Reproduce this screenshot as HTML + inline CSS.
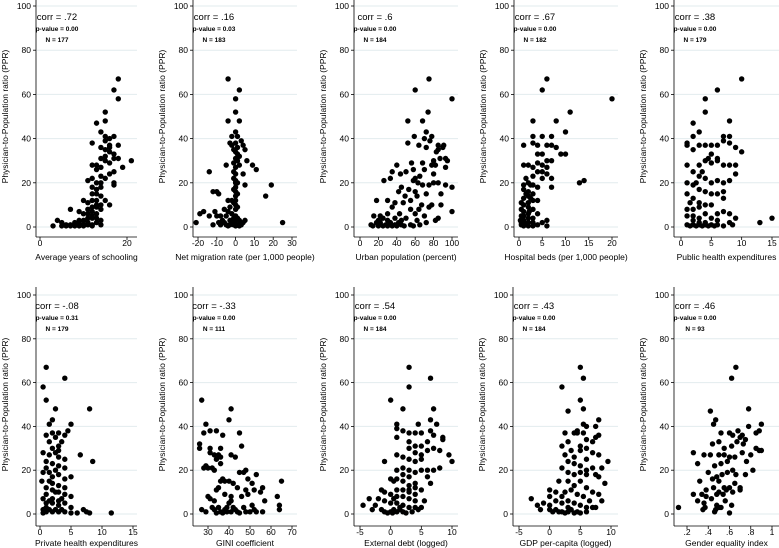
<!DOCTYPE html>
<html><head><meta charset="utf-8"><style>
html,body{margin:0;padding:0;background:#fff;}
svg{display:block;font-family:"Liberation Sans",Arial,sans-serif;}
</style></head><body>
<svg id="chart" width="779" height="548" viewBox="0 0 779 548" xmlns="http://www.w3.org/2000/svg"></svg>
<script>
const titles=["Average years of schooling","Net migration rate (per 1,000 people)","Urban population (percent)","Hospital beds (per 1,000 people)","Public health expenditures","Private health expenditures","GINI coefficient","External debt (logged)","GDP per-capita (logged)","Gender equality index"];
const corrLabels=["corr = .72","corr = .16","corr = .6","corr = .67","corr = .38","corr = -.08","corr = -.33","corr = .54","corr = .43","corr = .46"];
const pLabels=["p-value = 0.00","p-value = 0.03","p-value = 0.00","p-value = 0.00","p-value = 0.00","p-value = 0.31","p-value = 0.00","p-value = 0.00","p-value = 0.00","p-value = 0.00"];
const nLabels=["N = 177","N = 183","N = 184","N = 182","N = 179","N = 179","N = 111","N = 184","N = 184","N = 93"];
const yTicks=[0,20,40,60,80,100];
const xTicks=[[0,20],[-20,-10,0,10,20,30],[0,20,40,60,80,100],[0,5,10,15,20],[0,5,10,15],[0,5,10,15],[30,40,50,60,70],[-5,0,5,10],[-5,0,5,10],[.2,.4,.6,.8,1]];
const xTickText=[["0","20"],["-20","-10","0","10","20","30"],["0","20","40","60","80","100"],["0","5","10","15","20"],["0","5","10","15"],["0","5","10","15"],["30","40","50","60","70"],["-5","0","5","10"],["-5","0","5","10"],[".2",".4",".6",".8","1"]];

const schooling=[[18,67],[17,62],[18,58],[15,52],[15,48],[13,47],[14,43],[17,41],[15,41],[16,40],[12,38],[18,37],[16,37],[14,36],[15,35],[16,34],[17,33],[17,31],[18,31],[14,31],[15,30],[21,30],[16,29],[19,27],[13,28],[12,28],[14,27],[13,26],[17,25],[16,24],[14,23],[12,22],[15,22],[13,20],[17,20],[17,19],[12,18],[14,18],[13,17],[11,21],[13,15],[12,15],[14,14],[15,12],[13,12],[12,12],[10,12],[11,11],[16,10],[14,10],[13,9],[12,9],[11,8],[14,8],[7,8],[9,7],[10,6],[11,6],[13,6],[12,5],[11,4],[12,4],[13,4],[14,3],[9,3],[10,3],[8,2],[9,2],[11,2],[12,1],[14,1],[4,3],[5,2],[6,1],[7,1],[8,1],[9,1],[10,1],[11,1],[3,0.5],[5,0.5],[6,0.5],[7,0.5],[8,0.5],[9,0.5],[10,0.5],[12,0.5],[13,2],[15,32],[15,39],[16,36],[14,20],[13,10],[12,7]];
const migration=[[-4,67],[2,62],[0,58],[0,52],[-4,48],[2,48],[0,43],[1,41],[-2,41],[-3,38],[0,38],[3,39],[4,37],[5,35],[-2,37],[1,36],[0,34],[1,33],[2,32],[0,31],[1,30],[-1,29],[2,28],[0,27],[-5,28],[6,30],[9,28],[11,26],[4,24],[-14,25],[0,24],[-1,22],[0,21],[1,20],[5,19],[19,19],[0,18],[-1,17],[0,16],[-12,16],[-10,16],[-9,15],[16,14],[0,14],[-2,12],[-1,11],[0,10],[-4,12],[-3,9],[1,9],[0,8],[-6,8],[-4,7],[-17,7],[-19,6],[-11,7],[-2,6],[0,5],[-14,5],[-10,5],[-8,5],[-5,5],[-1,4],[1,4],[-7,3],[-3,3],[0,3],[2,3],[5,3],[-21,2],[-9,2],[-6,2],[-2,2],[4,2],[25,2],[-12,1],[-8,1],[-5,1],[-3,1],[-1,1],[0,1],[1,1],[2,1],[3,1],[-4,0.5],[0,0.5],[2,0.5],[0,20],[-1,25],[1,15],[0,12],[-1,35]];
const urban=[[75,67],[60,62],[100,58],[74,52],[52,48],[68,48],[72,43],[59,41],[78,41],[70,40],[76,39],[85,37],[91,37],[52,38],[64,37],[72,36],[90,36],[83,34],[85,35],[87,31],[93,31],[95,30],[80,30],[68,29],[78,28],[82,28],[56,29],[40,28],[35,25],[50,25],[58,26],[70,26],[93,27],[33,22],[44,24],[60,22],[65,23],[80,24],[26,21],[58,21],[63,20],[75,19],[80,20],[85,20],[93,19],[100,18],[68,19],[45,18],[53,17],[42,16],[60,16],[72,15],[88,15],[49,14],[62,14],[55,12],[30,12],[18,12],[38,11],[47,11],[67,10],[78,10],[88,10],[35,9],[55,8],[64,8],[75,9],[100,7],[22,5],[30,6],[43,6],[60,6],[70,5],[85,4],[15,5],[25,4],[38,4],[50,4],[62,3],[82,3],[12,1],[18,2],[22,2],[28,1],[33,2],[38,1],[42,2],[45,1],[55,1],[65,1],[72,2],[14,0.5],[20,0.5],[25,0.5],[30,0.5],[35,0.5],[40,0.5],[48,0.5],[58,0.5],[30,3],[20,3],[45,3]];
const beds=[[6,67],[5,62],[20,58],[11,52],[3,48],[8,48],[10,43],[3,41],[5,41],[7,41],[1,37],[3,38],[4,37],[6,37],[7,37],[8,36],[9,33],[10,33],[5,33],[6,30],[7,30],[4,29],[5,28],[1,28],[2,28],[3,27],[4,25],[5,25],[6,24],[7,22],[3,23],[2,20],[1,19],[3,19],[4,18],[7,18],[13,20],[14,21],[1,17],[2,16],[3,15],[2,14],[1,13],[3,12],[4,12],[0.5,11],[2,11],[1,10],[2,9],[3,8],[0.5,8],[1,7],[2,6],[4,6],[0.5,5],[1,5],[2,4],[3,4],[1,3],[6,3],[5,2],[0.5,2],[1,2],[2,2],[3,2],[4,1],[6,0.5],[0.5,1],[1,0.5],[2,0.5],[3,0.5],[1.5,15],[2.5,19],[1.5,22],[2.5,13],[4,33],[5,22],[6,27],[0.3,3],[1.2,1],[2.2,7]];
const publicExp=[[10,67],[6,62],[4,58],[4,52],[8,48],[2,47],[2,41],[3,43],[7,41],[8,41],[1,38],[1,37],[3,37],[4,37],[5,37],[6,37],[7,39],[8,38],[9,36],[10,34],[2,35],[5,33],[6,31],[6,30],[7,28],[8,28],[9,28],[5,29],[4,30],[3,28],[1,28],[2,25],[3,23],[4,22],[5,20],[6,21],[7,20],[8,21],[9,24],[1,20],[2,19],[3,17],[4,16],[5,15],[6,15],[7,16],[7,13],[1,15],[2,13],[3,11],[4,10],[5,10],[3,9],[2,8],[1,8],[4,6],[6,6],[7,7],[8,6],[9,4],[1,5],[2,5],[3,4],[5,4],[2,3],[3,2],[4,2],[6,3],[8,2],[1,1],[2,1],[3,1],[4,1],[5,1],[6,1],[7,0.5],[8.5,1],[13,2],[15,4],[1.5,0.5],[2.5,0.5],[3.5,0.5],[4.5,0.5],[5.5,0.5],[2.5,20],[3.5,25],[4.5,31],[1.5,11]];
const privateExp=[[1,67],[4,62],[0.5,58],[1,52],[2.5,48],[8,48],[1.5,41],[2,43],[5,41],[4.5,38],[4,36],[2,37],[3,37],[2.5,35],[1.5,33],[3.5,33],[3,31],[2,30],[2.5,28],[0.5,28],[6.5,27],[1.5,27],[3,26],[4,25],[8.5,24],[1,24],[2,23],[3,22],[1,21],[4,21],[2.5,20],[0.5,19],[1.5,19],[3,18],[5,17],[4,16],[0.3,15],[1.5,15],[2,14],[3,13],[1,12],[4,12],[2,11],[3,10],[1,9],[4,9],[5,8],[0.5,7],[2,7],[3,6],[1,5],[2,5],[4,5],[3,4],[1,3],[5,3],[7,2],[0.5,2],[1.5,2],[2.5,2],[3.5,2],[7.5,1],[8,0.5],[11.5,0.5],[0.5,0.5],[1,1],[2,1],[3,1],[4,1],[5,0.5],[6,0.5],[1.5,6],[2.5,10],[3.5,7],[2,17],[3,29],[1,36]];
const gini=[[27,52],[41,48],[40,43],[29,41],[28,37],[31,38],[34,38],[37,36],[45,37],[46,31],[26,30],[26,32],[31,30],[33,27],[35,27],[36,30],[36,26],[31,28],[34,25],[36,23],[41,27],[43,26],[29,22],[32,21],[30,21],[28,21],[33,20],[45,19],[48,20],[47,19],[53,18],[49,16],[37,16],[38,15],[40,15],[36,15],[51,14],[52,11],[56,12],[42,14],[44,12],[35,12],[34,11],[65,15],[55,10],[49,9],[46,8],[41,8],[38,9],[30,8],[31,7],[33,6],[57,6],[63,8],[64,4],[64,2],[27,2],[29,1],[33,2],[35,3],[36,1],[38,2],[39,3],[40,5],[41,1],[42,3],[43,2],[44,1],[47,3],[48,1],[50,1],[52,2],[53,1],[56,1],[45,0.5],[37,0.5],[39,1],[34,0.5],[32,3],[41,6],[48,11],[51,4]];
const debt=[[3,67],[6.5,62],[3,58],[0,52],[2,48],[7,48],[4.5,41],[1,41],[6.5,43],[7.5,41],[1,39],[2,38],[3,37],[4,37],[5,37],[6.5,38],[7,36],[8.5,35],[8.5,34],[1,35],[3,33],[4,31],[5,31],[6,33],[7,30],[8,29],[9.5,27],[10,24],[8,21],[3,30],[4,28],[5,27],[6,29],[7,20],[-1,24],[1,27],[2,26],[3,25],[4,24],[5,25],[2,21],[3,20],[4,19],[5,20],[6,20],[6,17],[6.5,14],[1,20],[2,18],[3,17],[1,16],[0,16],[0.5,15],[2,15],[3,13],[4,12],[5,11],[3,10],[4,9],[2,11],[1,11],[-1.5,11],[-1,10],[0,9],[1,8],[2,8],[3,7],[4,6],[5.5,6],[-3.5,7],[-2,7],[-1,6],[0,5],[1,5],[2,4],[3,3],[4,3],[5,3],[-4.5,4],[-2.5,4],[-3,2],[-1.5,2],[-1,1],[0,1],[0.5,2],[1,1],[1.5,2],[2,1],[2.5,0.5],[-0.5,0.5],[0.3,0.5],[3.5,1],[4.5,2],[1.5,3],[0.5,7],[3,11],[4,14]];
const gdp=[[5,67],[5.5,62],[2,58],[5,52],[5.5,48],[3,47],[5.5,41],[6,40],[7.5,40],[8,43],[2.5,37],[4,37],[4.5,38],[5.5,37],[6,34],[7,33],[7.5,35],[8,36],[3,33],[2,31],[2.5,27],[3.5,29],[4,26],[5,31],[5,29],[6,30],[7,28],[8,27],[3,24],[4,23],[5,22],[6,20],[7,21],[8.5,21],[9.5,24],[9,14],[2,21],[3,19],[4,18],[5,19],[6,18],[7.5,18],[8,17],[1.5,15],[3,15],[4,13],[5,15],[6,12],[7,10],[8,9],[2.5,10],[3.5,11],[4.5,9],[5.5,8],[6.5,6],[8.5,6],[0,11],[1,10],[0,8],[1,6],[2,5],[3,6],[4,5],[5,4],[6,3],[7,3],[-3,7],[-2,4],[-1,5],[0,4],[-1.5,2],[0,2],[0.5,1],[1,2],[1.5,1],[2,1],[2.5,0.5],[3,1],[3.5,2],[4,0.5],[4.5,1],[5,0.5],[6,1],[7.5,3],[3,3],[2,8],[4.5,37],[6,25]];
const gender=[[.66,67],[.62,62],[.78,48],[.42,47],[.9,41],[.45,41],[.47,43],[.52,37],[.6,37],[.63,36],[.68,38],[.72,36],[.78,40],[.88,38],[.85,37],[.7,35],[.75,34],[.44,32],[.5,33],[.55,30],[.62,31],[.67,33],[.73,32],[.85,30],[.88,29],[.9,29],[.26,28],[.36,27],[.42,27],[.5,27],[.55,27],[.6,26],[.65,26],[.8,27],[.3,23],[.46,22],[.52,23],[.58,24],[.63,20],[.76,24],[.82,20],[.4,19],[.48,17],[.53,18],[.58,19],[.66,18],[.75,18],[.44,16],[.5,15],[.55,12],[.6,12],[.7,12],[.32,15],[.38,11],[.45,12],[.5,10],[.57,11],[.63,10],[.7,11],[.26,9],[.34,9],[.38,8],[.43,7],[.48,9],[.54,9],[.3,6],[.36,5],[.48,4],[.5,3],[.56,6],[.62,4],[.12,3],[.37,3],[.35,2],[.47,2],[.46,1],[.6,0.5],[.52,3],[.65,14],[.72,28]];
const series=[schooling,migration,urban,beds,publicExp,privateExp,gini,debt,gdp,gender];
const names=["schooling","migration","urban","beds","public-health","private-health","gini","external-debt","gdp","gender-equality"];

const layout=[
 {ax:36,x0:0,px0:40,x1:20,px1:127,right:137},
 {ax:193,x0:-20,px0:198,x1:30,px1:292,right:297},
 {ax:354,x0:0,px0:360,x1:100,px1:452,right:458},
 {ax:514,x0:0,px0:519,x1:20,px1:612,right:618},
 {ax:674,x0:0,px0:681,x1:15,px1:772,right:779},
 {ax:36,x0:0,px0:40,x1:15,px1:133,right:137},
 {ax:193,x0:30,px0:208,x1:70,px1:292,right:297},
 {ax:354,x0:-5,px0:360,x1:10,px1:452,right:458},
 {ax:513,x0:-5,px0:519,x1:10,px1:611,right:618},
 {ax:674,x0:.2,px0:687,x1:1,px1:772,right:779}];
const rows=[{top:0,y100:6,y0:227,xl:237,tl:246,tt:260},{top:287,y100:295,y0:514,xl:526,tl:535,tt:546}];

const svg=document.getElementById('chart');
const NS='http://www.w3.org/2000/svg';
function mk(tag,attrs,parent){const e=document.createElementNS(NS,tag);for(const k in attrs)e.setAttribute(k,attrs[k]);(parent||svg).appendChild(e);return e;}

for(let i=0;i<10;i++){
  const L=layout[i],R=rows[i<5?0:1];
  const xs=v=>L.px0+(v-L.x0)*(L.px1-L.px0)/(L.x1-L.x0);
  const ys=v=>R.y0-(v/100)*(R.y0-R.y100);
  const g=mk('g',{});
  
  
  yTicks.forEach(t=>{
    const gl=mk('line',{x1:L.ax+1,x2:L.right,y1:ys(t),y2:ys(t),stroke:'#e2ebee','stroke-width':1},g);
    
    
    mk('line',{x1:L.ax-3,x2:L.ax,y1:ys(t),y2:ys(t),stroke:'#000','stroke-width':0.8},g);
    const tl=mk('text',{x:L.ax-5,y:ys(t)+3,'text-anchor':'end','font-size':8.5},g);
    tl.textContent=String(t);
    
    
  });
  const ya=mk('line',{x1:L.ax,x2:L.ax,y1:R.top,y2:R.xl,stroke:'#000','stroke-width':0.8},g);
  
  
  const xa=mk('line',{x1:L.ax,x2:L.right,y1:R.xl,y2:R.xl,stroke:'#000','stroke-width':0.8},g);
  
  
  xTicks[i].forEach((t,k)=>{
    mk('line',{x1:xs(t),x2:xs(t),y1:R.xl,y2:R.xl+3,stroke:'#000','stroke-width':0.8},g);
    const tl=mk('text',{x:xs(t),y:R.tl,'text-anchor':'middle','font-size':8.5},g);
    tl.textContent=xTickText[i][k];
    
    
  });
  const xt=mk('text',{x:(L.ax+L.right)/2,y:R.tt,'text-anchor':'middle','font-size':8.5},g);
  xt.textContent=titles[i];
  
  
  const cy=(R.y0+R.y100)/2;
  const yt=mk('text',{x:0,y:0,'text-anchor':'middle','font-size':8.5,transform:`translate(${L.ax-28},${cy}) rotate(-90)`},g);
  yt.textContent='Physician-to-Population ratio (PPR)';
  
  
  const cx=L.ax+21;
  const c=mk('text',{x:cx,y:R.y100+14,'text-anchor':'middle','font-size':9.5},g);
  c.textContent=corrLabels[i];
  
  
  const p=mk('text',{x:cx,y:R.y100+25,'text-anchor':'middle','font-size':6.5,'font-weight':'bold'},g);
  p.textContent=pLabels[i];
  
  
  const n=mk('text',{x:cx,y:R.y100+36,'text-anchor':'middle','font-size':6.5,'font-weight':'bold'},g);
  n.textContent=nLabels[i];
  
  
  series[i].forEach(d=>{
    const pt=mk('circle',{cx:xs(d[0]),cy:ys(d[1]),r:2.7,fill:'#000'},g);
    
    
  });
}
</script>
</body></html>
